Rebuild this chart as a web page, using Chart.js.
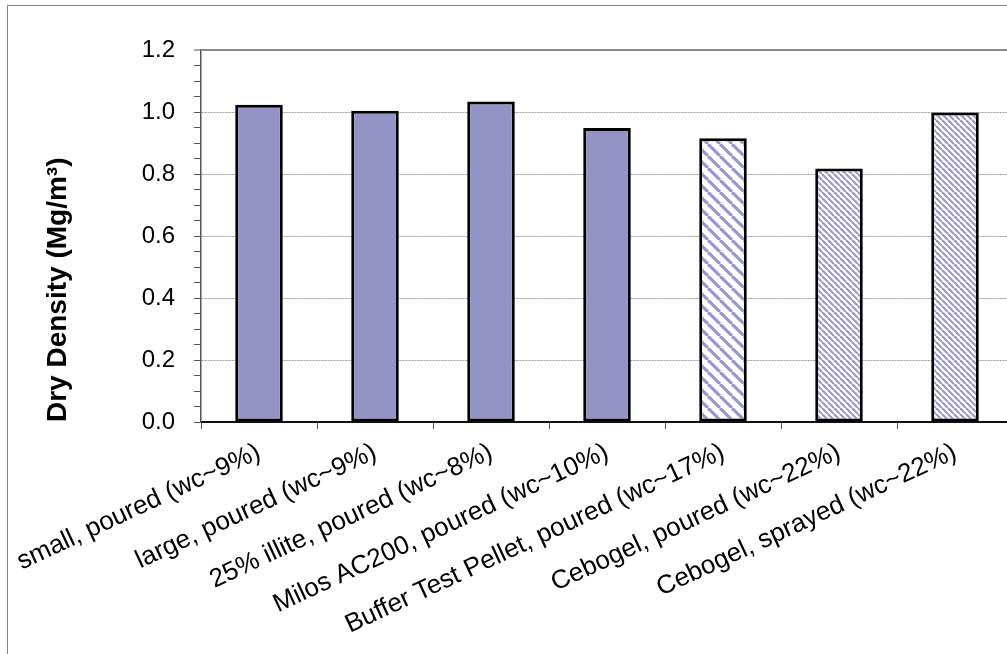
<!DOCTYPE html>
<html>
<head>
<meta charset="utf-8">
<script src="https://cdn.jsdelivr.net/npm/chart.js@4"></script>
<style>
  html, body { margin: 0; padding: 0; background: #fff; }
  #wrap { position: relative; width: 1007px; height: 654px; overflow: hidden; }
  #frame { position: absolute; left: 7px; top: 5px; width: 1100px; height: 700px;
           border-left: 1px solid #888; border-top: 1px solid #888; pointer-events: none; }
</style>
</head>
<body>
<div id="wrap">
  <canvas id="myChart" width="1040" height="654"></canvas>
  <div id="frame"></div>
</div>
<script>
const labels = [
  "small, poured (wc~9%)",
  "large, poured (wc~9%)",
  "25% illite, poured (wc~8%)",
  "Milos AC200, poured (wc~10%)",
  "Buffer Test Pellet, poured (wc~17%)",
  "Cebogel, poured (wc~22%)",
  "Cebogel, sprayed (wc~22%)"
];
const density = [1.023, 1.004, 1.034, 0.948, 0.915, 0.818, 0.998];
// 0 = solid, 1 = wide hatch, 2 = fine hatch
const fillKind = [0, 0, 0, 0, 1, 2, 2];

const yMax = 1.2;
const yStep = 0.05;

const barColor = "#9393c6";

function hatch(size, lw) {
  const c = document.createElement("canvas");
  c.width = size;
  c.height = size;
  const g = c.getContext("2d");
  g.fillStyle = "#fff";
  g.fillRect(0, 0, size, size);
  g.strokeStyle = "#9898cc";
  g.lineWidth = lw;
  for (let k = -1; k <= 1; k++) {
    g.beginPath();
    g.moveTo(k * size, 0);
    g.lineTo(k * size + size, size);
    g.stroke();
  }
  return g.createPattern(c, "repeat");
}

const ctx = document.getElementById("myChart").getContext("2d");
const fills = [barColor, hatch(12, 3.2), hatch(6, 2.2)];

const isMajor = (v) => Math.round(v * 100) % 20 === 0;

const config = {
  type: "bar",
  data: {
    labels: labels,
    datasets: [{
      data: density,
      backgroundColor: fillKind.map((k) => fills[k]),
      borderColor: "#000",
      borderWidth: 3,
      borderSkipped: false,
      barPercentage: 0.41,
      categoryPercentage: 1
    }]
  },
  options: {
    responsive: false,
    animation: false,
    layout: { padding: { left: 0, top: 50, right: 27, bottom: 0 } },
    plugins: { legend: { display: false }, tooltip: { enabled: false } },
    scales: {
      x: {
        afterFit: (s) => {
          s.height = 232;
          s.paddingLeft = 0;
          s.paddingRight = 0;
        },
        grid: { drawOnChartArea: false, tickLength: 7, tickColor: "#555", tickWidth: 1 },
        border: { color: "#111", width: 2 },
        ticks: {
          autoSkip: false,
          minRotation: 25,
          maxRotation: 25,
          padding: 8,
          color: "#000",
          font: { family: "Liberation Sans, Arial", size: 26 }
        }
      },
      y: {
        min: 0,
        max: yMax,
        afterFit: (s) => { s.width = 201; },
        ticks: {
          stepSize: yStep,
          autoSkip: false,
          padding: 19,
          color: "#000",
          font: { family: "Liberation Sans, Arial", size: 24 },
          callback: (v) => (isMajor(v) ? v.toFixed(1) : "")
        },
        grid: {
          tickLength: 7,
          tickColor: "#555",
          tickWidth: 1,
          color: (c) => {
            const v = c.tick ? c.tick.value : 0;
            if (Math.abs(v - yMax) < 1e-6) return "#888";
            if (v > 0 && isMajor(v)) return "#999";
            return "rgba(0,0,0,0)";
          },
          lineWidth: (c) => (c.tick && Math.abs(c.tick.value - yMax) < 1e-6 ? 2 : 1)
        },
        border: {
          color: "#555",
          width: 1.5,
          dash: (c) => (c.tick && Math.abs(c.tick.value - yMax) < 1e-6 ? [] : [2, 1])
        },
        title: {
          display: true,
          text: "Dry Density (Mg/m³)",
          align: "start",
          color: "#000",
          padding: { top: 41, bottom: 0 },
          font: { family: "Liberation Sans, Arial", size: 28, weight: "bold" }
        }
      }
    }
  }
};

let myChart = new Chart(ctx, config);
</script>
</body>
</html>
